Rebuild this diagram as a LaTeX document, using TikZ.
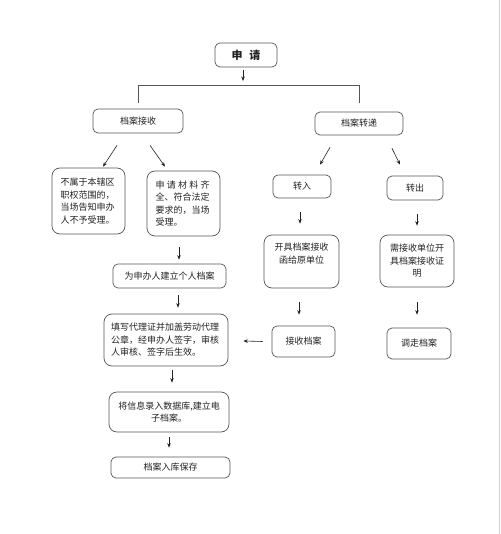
\documentclass[tikz,border=0pt]{standalone}
\usepackage{fontspec}
\newfontfamily\cjk{Noto Sans CJK SC}
\usetikzlibrary{arrows.meta,calc}
\definecolor{boxgray}{HTML}{555555}
\definecolor{txt}{HTML}{222222}
\definecolor{edgegray}{HTML}{CFCFCF}
\begin{document}
\begin{tikzpicture}[x=1pt,y=-1pt,
 box/.style={draw=boxgray,line width=0.7pt,rounded corners=5pt,inner sep=0pt,font=\cjk\fontsize{9}{12.5}\selectfont,text=txt},
 big/.style={box,rounded corners=8pt},
 arr/.style={-{Stealth[length=4.5pt,width=3.5pt]},line width=0.6pt,draw=txt},
 bar/.style={line width=0.6pt,draw=boxgray}]
\useasboundingbox (0,0) rectangle (500,534);
\fill[white] (0,0) rectangle (500,534);
\draw[edgegray,line width=1pt] (499,0) -- (499,534);

\node[box,minimum width=62pt,minimum height=24pt,font=\cjk\fontsize{11}{13}\selectfont\bfseries] (top) at (246,55) {申\hspace{0.6em}请};
\node[box,minimum width=90pt,minimum height=24pt] (recv) at (138,121) {档案接收};
\node[box,minimum width=88pt,minimum height=23pt] (trans) at (359,123.5) {档案转递};
\node[big,minimum width=73pt,minimum height=66pt,text width=56pt,align=left] (reject) at (88.5,201) {不属于本辖区\\职权范围的，\\当场告知申办\\人不予受理。};
\node[big,minimum width=73pt,minimum height=65pt,text width=56pt,align=left] (accept) at (183.5,203.5) {申\hspace{0.25em}请\hspace{0.25em}材\hspace{0.25em}料\hspace{0.25em}齐\\全、符合法定\\要求的，当场\\受理。};
\node[box,minimum width=113pt,minimum height=24pt] (build) at (169.5,276) {为申办人建立个人档案};
\node[box,minimum width=58pt,minimum height=23pt] (in) at (302,186.5) {转入};
\node[box,minimum width=56pt,minimum height=24pt] (out) at (415,188) {转出};
\node[big,minimum width=75pt,minimum height=53pt,align=center] (issue) at (301.5,261.5) {开具档案接收\\函给原单位\\\strut};
\node[big,minimum width=74pt,minimum height=52pt,align=center] (need) at (417,261) {需接收单位开\\具档案接收证\\明};
\node[big,minimum width=124pt,minimum height=52pt,text width=110pt,align=left] (fill) at (166,340) {填写代理证并加盖劳动代理\\公章，经申办人签字，审核\\人审核、签字后生效。};
\node[box,minimum width=63pt,minimum height=31pt] (recvf) at (303.5,341.5) {接收档案};
\node[box,minimum width=64pt,minimum height=31pt] (move) at (419,343.5) {调走档案};
\node[big,minimum width=120pt,minimum height=40pt,align=center] (entry) at (169,412) {将信息录入数据库,建立电\\子档案。};
\node[box,minimum width=119pt,minimum height=21pt] (store) at (170.5,467.5) {档案入库保存};

\coordinate (barmid) at (243,86);
\draw[arr] ($(top.south)+(-3,3)$) -- ($(barmid)+(0,-5)$);
\draw[bar] ([yshift=6pt]recv.north) -- ++(0,-17) -| ([yshift=9pt]trans.north);

\draw[arr] ($(recv.south)+(-21,12)$) -- ($(reject.north)+(14.5,-1)$);
\draw[arr] ($(recv.south)+(12,12)$) -- ($(accept.north)+(-18.5,-4)$);
\draw[arr] ($(trans.south)+(-29,12)$) -- ($(in.north)+(18,-10)$);
\draw[arr] ($(trans.south)+(33,13)$) -- ($(out.north)+(-15,-11)$);
\draw[arr] ($(accept.south)+(-4.5,11)$) -- ($(build.north)+(9.5,-4)$);
\draw[arr] ($(build.south)+(8.5,7)$) -- ($(fill.north)+(12,-6)$);
\draw[arr] ($(in.south)+(-2,14)$) -- ($(issue.north)+(-1.5,-11)$);
\draw[arr] ($(out.south)+(2,14)$) -- ($(need.north)+(0,-9)$);
\draw[arr] ($(issue.south)+(-2.5,14)$) -- ($(recvf.north)+(-4.5,-11)$);
\draw[arr] ($(need.south)+(0,15)$) -- ($(move.north)+(-2,-13)$);
\draw[arr] ($(recvf.west)+(-9,0)$) -- ($(fill.east)+(15,1)$);
\draw[arr] ($(fill.south)+(6,4)$) -- ($(entry.north)+(3,-9)$);
\draw[arr] ($(entry.south)+(0,5)$) -- ($(store.north)+(-1.5,-9)$);
\end{tikzpicture}
\end{document}
